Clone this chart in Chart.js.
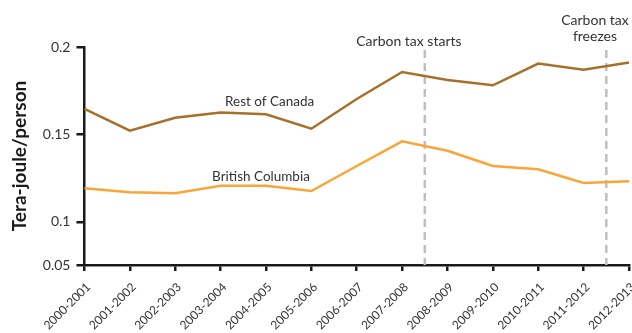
<!DOCTYPE html>
<html><head><meta charset="utf-8">
<script src="https://cdn.jsdelivr.net/npm/chart.js@4"></script>
<style>html,body{margin:0;padding:0;background:#fff}#wrap{width:632px;height:333px}</style>
</head><body><div id="wrap"><canvas id="c" width="632" height="333"></canvas></div>
<script>
const categories = ["2000-2001","2001-2002","2002-2003","2003-2004","2004-2005","2005-2006","2006-2007","2007-2008","2008-2009","2009-2010","2010-2011","2011-2012","2012-2013"];
const restOfCanada = [0.1647,0.1522,0.1596,0.1625,0.1615,0.1533,0.1703,0.1857,0.1811,0.1781,0.1905,0.1870,0.1912];
const britishColumbia = [0.1193,0.1170,0.1164,0.1207,0.1207,0.1177,0.1320,0.1461,0.1407,0.1320,0.1301,0.1223,0.1233];
const yTickValues = [0.0754,0.1,0.15,0.2];
const yTickLabels = ["0.05","0.1","0.15","0.2"];
const eventPositions = [7.5, 11.5];
const eventLabels = [["Carbon tax starts"],["Carbon tax","freezes"]];
const eventLabelPositions = [7.15, 11.25];
const seriesLabels = [
  {text:"Rest of Canada", x:4.08, y:0.1663},
  {text:"British Columbia", x:3.89, y:0.1234}
];

const overlay = {
  id:'overlay',
  beforeDatasetsDraw(chart){
    const ctx=chart.ctx, xs=chart.scales.x, ys=chart.scales.y;
    ctx.save();
    ctx.strokeStyle='#BFBFBF'; ctx.lineWidth=2.5; ctx.setLineDash([8,5]);
    eventPositions.forEach((p)=>{
      const x=xs.getPixelForValue(p);
      ctx.beginPath(); ctx.moveTo(x, ys.top+3); ctx.lineTo(x, ys.bottom); ctx.stroke();
    });
    ctx.restore();
  },
  afterDatasetsDraw(chart){
    const ctx=chart.ctx, xs=chart.scales.x, ys=chart.scales.y;
    ctx.save();
    ctx.fillStyle='#333'; ctx.font='14px Lato'; ctx.textAlign='center'; ctx.textBaseline='alphabetic';
    eventLabelPositions.forEach((p,i)=>{
      const x=xs.getPixelForValue(p);
      const lines=eventLabels[i];
      const baseY = ys.top - 1 - (lines.length-1)*21;
      lines.forEach((t,j)=>ctx.fillText(t, x, baseY + j*16));
    });
    ctx.font='13.5px Lato';
    seriesLabels.forEach(l=>{
      ctx.fillText(l.text, xs.getPixelForValue(l.x), ys.getPixelForValue(l.y));
    });
    ctx.restore();
  }
};

new Chart(document.getElementById('c'),{
  type:'line',
  data:{labels:categories,datasets:[
    {label:'Rest of Canada',data:restOfCanada,borderColor:'#A6702A',borderWidth:2.5,pointRadius:0,tension:0,fill:false},
    {label:'British Columbia',data:britishColumbia,borderColor:'#F9A53A',borderWidth:2.5,pointRadius:0,tension:0,fill:false}
  ]},
  options:{
    responsive:false, animation:false, devicePixelRatio:1,
    layout:{padding:{left:8,top:47,right:3,bottom:0}},
    plugins:{legend:{display:false},tooltip:{enabled:false}},
    scales:{
      x:{
        offset:false,
        afterFit(scale){scale.paddingRight=0; scale.height=68;},
        grid:{display:true,drawOnChartArea:false,drawTicks:true,tickLength:6,color:'#1a1a1a',lineWidth:2.5},
        border:{display:true,color:'#1a1a1a',width:2.5},
        ticks:{color:'#333',font:{family:'Lato',size:12},minRotation:45,maxRotation:45,padding:9,labelOffset:4,autoSkip:false}
      },
      y:{
        min:0.0754,max:0.2,
        afterBuildTicks(scale){scale.ticks=yTickValues.map(v=>({value:v}));},
        grid:{display:true,drawOnChartArea:false,drawTicks:true,tickLength:8,color:'#1a1a1a',lineWidth:2.5},
        border:{display:true,color:'#1a1a1a',width:2.5},
        ticks:{color:'#333',font:{family:'Lato',size:14},padding:6,callback:(v,i)=>yTickLabels[i]},
        title:{display:true,text:'Tera-joule/person',color:'#1a1a1a',font:{family:'Lato',size:19,weight:'bold'},padding:{top:0,bottom:6}}
      }
    }
  },
  plugins:[overlay]
});
</script></body></html>
